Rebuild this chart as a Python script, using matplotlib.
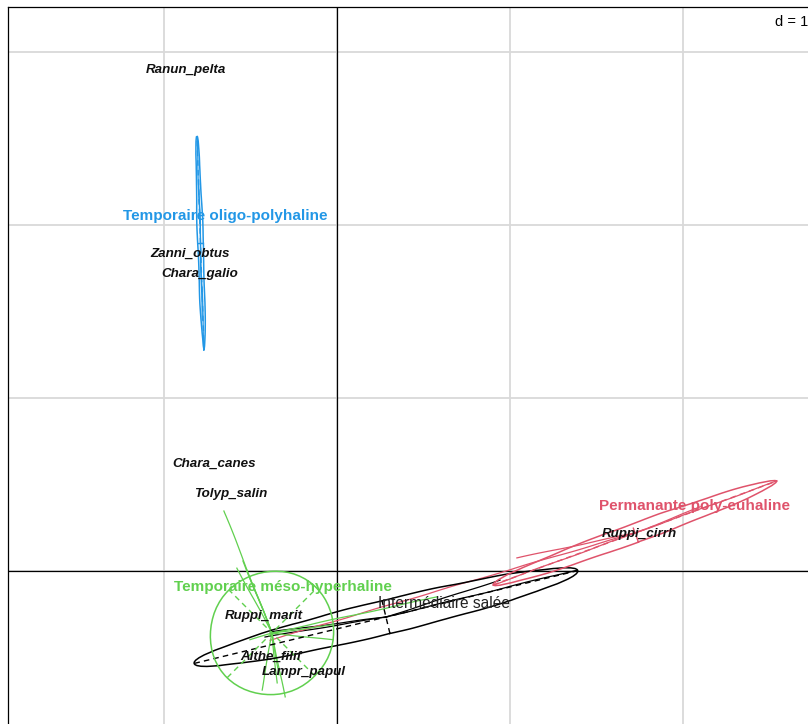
import numpy as np
import matplotlib.pyplot as plt
from matplotlib.patches import Ellipse

plt.rcParams['font.family'] = ['Liberation Sans', 'DejaVu Sans']

# classes: name, colour, label position, ellipse (centre, half axes, angle)
classes = ["Intermédiaire salée", "Permanante poly-euhaline",
           "Temporaire méso-hyperhaline", "Temporaire oligo-polyhaline"]
class_colors = ["black", "#DF536B", "#61D04F", "#2297E6"]
class_label_x = [0.618, 2.069, -0.312, -0.647]
class_label_y = [-0.179, 0.387, -0.081, 2.058]
centre_x = [0.283, 1.723, -0.376, -0.789]
centre_y = [-0.266, 0.220, -0.358, 1.893]
half_major = [1.139, 0.873, 0.365, 0.618]
half_minor = [0.098, 0.055, 0.350, 0.016]
angle_deg = [13.6, 20.1, 45.0, 91.9]

# site scores, one list per class
sites_x = [
    [-0.387, 1.387, 0.942, -0.416],
    [2.543, 1.040, 0.902, -0.387, 2.100],
    [-0.653, -0.578, -0.543, -0.520, 0.578, -0.023, -0.023, -0.347,
     -0.301, -0.434, -0.503, -0.335],
    [-0.809, -0.769, -0.798, -0.780],
]
sites_y = [
    [-0.353, 0.006, -0.052, -0.382],
    [0.520, 0.075, -0.081, -0.399, 0.370],
    [0.347, 0.017, 0.058, 0.006, -0.150, -0.399, -0.312, -0.647,
     -0.728, -0.688, -0.399, -0.600],
    [2.509, 1.277, 2.260, 1.451],
]

# species scores
species = ["Ranun_pelta", "Zanni_obtus", "Chara_galio", "Chara_canes",
           "Tolyp_salin", "Ruppi_cirrh", "Ruppi_marit", "Althe_filif",
           "Lampr_papul"]
species_x = [-0.873, -0.850, -0.792, -0.711, -0.613, 1.746, -0.422, -0.382, -0.191]
species_y = [2.902, 1.844, 1.723, 0.630, 0.451, 0.225, -0.249, -0.486, -0.578]

fig = plt.figure(figsize=(8.08, 7.24), dpi=100)
# panel runs off the right and bottom edges of the page
ax = fig.add_axes([8 / 808, 1 - 760 / 724, (900 - 8) / 808, (760 - 7) / 724])
ax.set_xlim((8 - 337) / 173, (900 - 337) / 173)
ax.set_ylim((571 - 760) / 173, (571 - 7) / 173)
ax.set_xticks([])
ax.set_yticks([])
for s in ax.spines.values():
    s.set_linewidth(0.9)

# grid, d = 1
for g in range(-2, 4):
    ax.axvline(g, color='#d9d9d9', lw=1.3, zorder=0)
    ax.axhline(g, color='#d9d9d9', lw=1.3, zorder=0)
ax.axvline(0, color='black', lw=0.9, zorder=1)
ax.axhline(0, color='black', lw=0.9, zorder=1)

ax.text((775 - 337) / 173, (571 - 22) / 173, "d = 1", fontsize=10.5,
        ha='left', va='center')

sketch = (0.3, 90, 2)
dy = -1.5 / 173  # nudge labels onto their centres

for i, name in enumerate(classes):
    col = class_colors[i]
    cx, cy = centre_x[i], centre_y[i]
    # stars
    for px, py in zip(sites_x[i], sites_y[i]):
        ln, = ax.plot([cx, px], [cy, py], color=col, lw=0.9, zorder=2)
        ln.set_sketch_params(*sketch)
    # ellipse and its axes
    ell = Ellipse((cx, cy), 2 * half_major[i], 2 * half_minor[i], angle=angle_deg[i],
                  fill=False, edgecolor=col, lw=1.1, zorder=3)
    ell.set_sketch_params(*sketch)
    ax.add_patch(ell)
    t = np.deg2rad(angle_deg[i])
    ux, uy = np.cos(t), np.sin(t)
    ax.plot([cx - half_major[i] * ux, cx + half_major[i] * ux],
            [cy - half_major[i] * uy, cy + half_major[i] * uy],
            color=col, lw=1.0, ls=(0, (4, 3)), zorder=3)
    ax.plot([cx + half_minor[i] * uy, cx - half_minor[i] * uy],
            [cy - half_minor[i] * ux, cy + half_minor[i] * ux],
            color=col, lw=1.0, ls=(0, (4, 3)), zorder=3)

for lab, x, y in zip(species, species_x, species_y):
    ax.text(x, y + dy, lab, fontsize=9.6, fontweight='bold', fontstyle='italic',
            ha='center', va='center', color='#111111', zorder=4)

for i, name in enumerate(classes):
    if class_colors[i] == 'black':
        ax.text(class_label_x[i], class_label_y[i] + dy, name, fontsize=11.2,
                color='#222222', ha='center', va='center', zorder=5)
    else:
        ax.text(class_label_x[i], class_label_y[i] + dy, name, fontsize=11,
                fontweight='bold', color=class_colors[i],
                ha='center', va='center', zorder=5)

fig.savefig("out.png", dpi=100)
